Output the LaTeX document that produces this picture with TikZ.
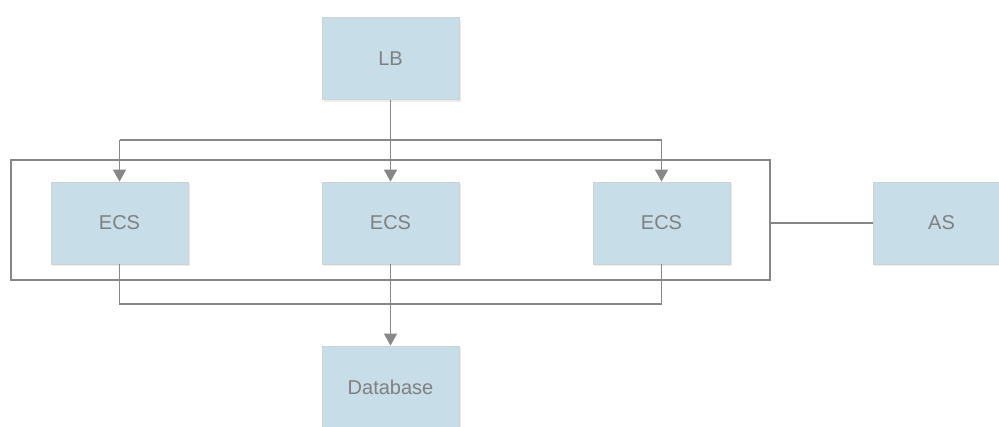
\documentclass[tikz,border=0pt]{standalone}
\usepackage{fontspec}
\setmainfont{Liberation Sans}
\usetikzlibrary{arrows.meta,shadows}
\definecolor{boxfill}{RGB}{199,221,232}
\definecolor{boxline}{RGB}{205,210,214}
\definecolor{wire}{RGB}{135,135,135}
\definecolor{label}{RGB}{128,128,128}
\tikzset{
  svc/.style={draw=boxline, line width=0.8pt, fill=boxfill,
    minimum width=137pt, minimum height=82pt, inner sep=0pt,
    text=label, font=\fontsize{20}{24}\selectfont,
    drop shadow={shadow xshift=1.5pt, shadow yshift=-2pt, opacity=0.12, fill=black!60}},
  frame/.style={draw=wire, line width=1.1pt, inner sep=0pt},
  wireline/.style={draw=wire, line width=1.5pt},
  flow/.style={wireline, -{Triangle[width=13pt,length=12pt]}}
}
\begin{document}
\begin{tikzpicture}[x=1pt,y=-1pt]
  \useasboundingbox (0,0) rectangle (999,426);
  \clip (0,0) rectangle (999,426);

  % auto-scaling group frame
  \node[frame, minimum width=759pt, minimum height=120pt] (group) at (390.5,220) {};

  % services
  \node[svc] (lb)  at (390.5,58.5) {LB};
  \node[svc] (ecsA) at (119.5,223) {ECS};
  \node[svc] (ecsB) at (390.5,223) {ECS};
  \node[svc] (ecsC) at (661.5,223) {ECS};
  \node[svc] (as)  at (941.5,223) {AS};
  \node[svc] (db)  at (390.5,387) {Database};

  % junction points
  \coordinate (splitA) at (119.5,140);
  \coordinate (splitC) at (661.5,140);
  \coordinate (joinA)  at (119.5,304);
  \coordinate (joinC)  at (661.5,304);

  % load balancer fan-out
  \draw[flow] (lb.south) -- (ecsB.north);
  \draw[wireline] (splitA) -- (splitC);
  \draw[flow] (splitA) -- (ecsA.north);
  \draw[flow] (splitC) -- (ecsC.north);

  % database fan-in
  \draw[wireline] (ecsA.south) -- (joinA) -- (joinC) -- (ecsC.south);
  \draw[flow] (ecsB.south) -- (db.north);

  % scaling service link
  \draw[wireline] (group.east |- as.west) -- (as.west);
\end{tikzpicture}
\end{document}
